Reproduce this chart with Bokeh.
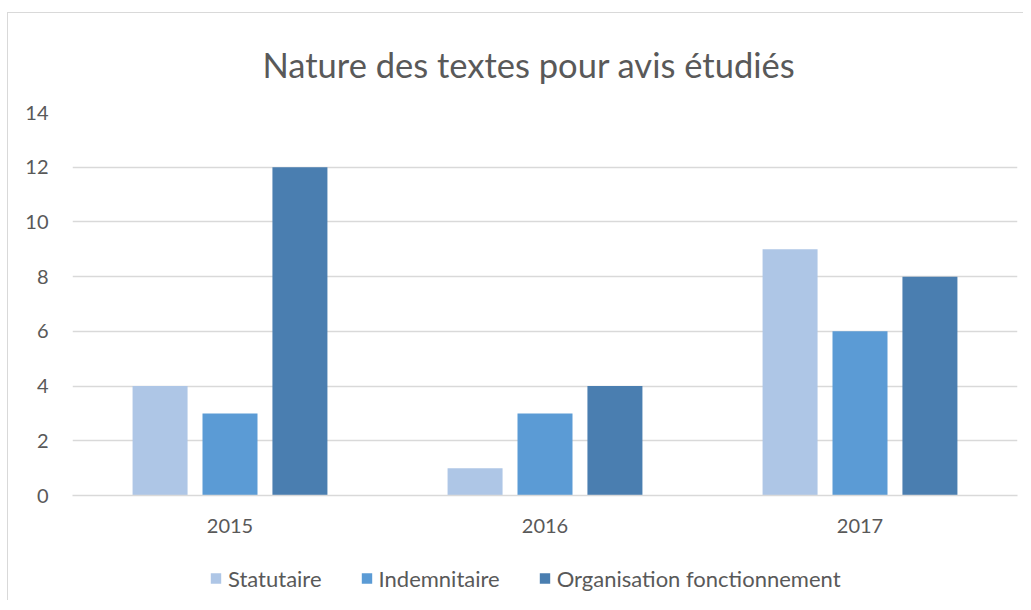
from bokeh.plotting import figure
from bokeh.layouts import column
from bokeh.models import ColumnDataSource, FactorRange, Legend, LegendItem, Range1d
from bokeh.transform import dodge
from bokeh.embed import file_html
from bokeh.resources import INLINE

years = ["2015", "2016", "2017"]
series = ["Statutaire", "Indemnitaire", "Organisation fonctionnement"]
statutaire = [4, 1, 9]
indemnitaire = [3, 3, 6]
organisation = [12, 4, 8]
colors = ["#AEC6E6", "#5B9BD5", "#4A7EB0"]
y_ticks = [0, 2, 4, 6, 8, 10, 12, 14]

FONT = "Lato"
TXT = "#595959"

source = ColumnDataSource(dict(years=years, s0=statutaire, s1=indemnitaire, s2=organisation))

p = figure(x_range=FactorRange(*years), y_range=Range1d(0, 14),
           width=1015, height=527, output_backend="svg", toolbar_location=None,
           min_border_left=64, min_border_right=6, min_border_top=98, min_border_bottom=45)

p.title.text = "Nature des textes pour avis étudiés"
p.title.text_font = FONT
p.title.text_font_size = "34.5px"
p.title.text_font_style = "normal"
p.title.text_color = TXT
p.title.align = "left"
p.title.offset = 190
p.title.standoff = 56

offsets = [-0.222, 0.0, 0.222]
renderers = []
for i, key in enumerate(["s0", "s1", "s2"]):
    r = p.vbar(x=dodge("years", offsets[i], range=p.x_range), top=key, width=0.1746,
               source=source, fill_color=colors[i], line_color=None)
    renderers.append(r)

p.yaxis.ticker = y_ticks
p.yaxis.axis_line_color = None
p.yaxis.major_tick_line_color = None
p.yaxis.minor_tick_line_color = None
p.yaxis.major_label_standoff = 18
p.yaxis.major_label_text_font = FONT
p.yaxis.major_label_text_font_size = "20px"
p.yaxis.major_label_text_color = TXT

p.xaxis.axis_line_color = "#D9D9D9"
p.xaxis.axis_line_width = 1.5
p.xaxis.major_tick_line_color = None
p.xaxis.minor_tick_line_color = None
p.xaxis.major_label_standoff = 17
p.xaxis.major_label_text_font = FONT
p.xaxis.major_label_text_font_size = "20px"
p.xaxis.major_label_text_color = TXT

p.xgrid.grid_line_color = None
p.ygrid.grid_line_color = "#D9D9D9"
p.ygrid.grid_line_width = 1.5
p.outline_line_color = None
p.x_range.range_padding = 0

# legend strip below the chart (its bars lie outside its visible y range)
lg = figure(width=1015, height=60, output_backend="svg", toolbar_location=None,
            x_range=FactorRange(*years), y_range=Range1d(100, 101),
            min_border_left=0, min_border_right=0, min_border_top=16, min_border_bottom=0)
lg.axis.visible = False
lg.grid.visible = False
lg.outline_line_color = None
lg_renderers = []
for i, key in enumerate(["s0", "s1", "s2"]):
    r = lg.vbar(x=dodge("years", offsets[i], range=lg.x_range), top=key, width=0.1746,
                source=source, fill_color=colors[i], line_color=None)
    lg_renderers.append(r)
legend = Legend(items=[LegendItem(label=series[i], renderers=[lg_renderers[i]]) for i in range(3)],
                orientation="horizontal", location="left")
legend.label_text_font = FONT
legend.label_text_font_size = "22px"
legend.label_text_color = TXT
legend.glyph_width = 13
legend.glyph_height = 13
legend.label_standoff = 6
legend.spacing = 38
legend.border_line_alpha = 0
legend.background_fill_alpha = 0
legend.padding = 0
legend.margin = 137
lg.add_layout(legend)

layout = column(p, lg, spacing=0)
layout.margin = (12, 0, 0, 7)
layout.styles = {"border-left": "1px solid #D9D9D9", "border-top": "1px solid #D9D9D9"}
open("out.html", "w").write(file_html(layout, INLINE))
